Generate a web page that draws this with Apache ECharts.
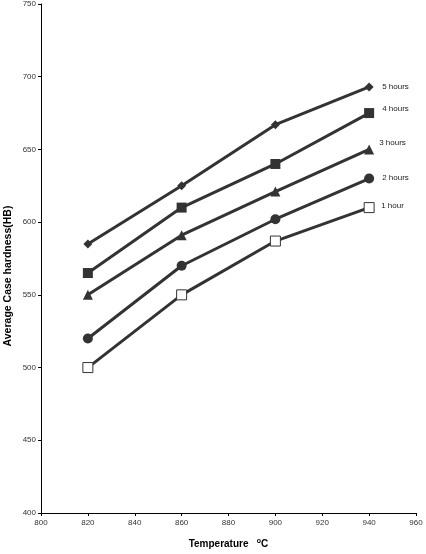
<!DOCTYPE html>
<html>
<head>
<meta charset="utf-8">
<script src="https://cdn.jsdelivr.net/npm/echarts@6/dist/echarts.min.js"></script>
<style>
html, body { margin: 0; padding: 0; background: #fff; }
#chart { width: 426px; height: 554px; }
</style>
</head>
<body>
<div id="chart"></div>
<script>
var temps = [820, 860, 900, 940];
var names = ['5 hours', '4 hours', '3 hours', '2 hours', '1 hour'];
var hours5 = [585, 625, 667, 693];
var hours4 = [565, 610, 640, 675];
var hours3 = [550, 591, 621, 650];
var hours2 = [520, 570, 602, 630];
var hours1 = [500, 550, 587, 610];
var allValues = [hours5, hours4, hours3, hours2, hours1];

var symbols = ['diamond', 'rect', 'triangle', 'circle', 'rect'];
var sizes = [9, 10, 10, 10, 10];
var labelOffsets = [[5, 0], [5, -4], [2, -7], [5, -1], [4, -2]];

var chart = echarts.init(document.getElementById('chart'));

var series = [];
for (var i = 0; i < names.length; i++) {
    var pts = [];
    for (var j = 0; j < temps.length; j++) {
        pts.push([temps[j], allValues[i][j]]);
    }
    var empty = (i === 4);
    series.push({
        name: names[i],
        type: 'line',
        data: pts,
        symbol: symbols[i],
        symbolSize: sizes[i],
        showAllSymbol: true,
        lineStyle: { color: '#333', width: 3 },
        itemStyle: {
            color: empty ? '#fff' : '#333',
            borderColor: '#333',
            borderWidth: empty ? 1 : 0
        },
        endLabel: {
            show: true,
            formatter: names[i],
            color: '#222',
            fontSize: 8,
            fontFamily: 'Liberation Sans',
            offset: labelOffsets[i]
        },
        emphasis: { disabled: true },
        z: empty ? 3 : 2
    });
}

chart.setOption({
    animation: false,
    grid: { left: 41, right: 10, top: 4, bottom: 41, outerBoundsMode: 'none', containLabel: false },
    // y axis title drawn as graphic so it can sit a bit below the middle like the original
    graphic: [{
        type: 'text',
        x: 8,
        y: 276,
        rotation: Math.PI / 2,
        style: {
            text: 'Average Case hardness(HB)',
            fontSize: 10.5,
            fontWeight: 'bold',
            fontFamily: 'Liberation Sans',
            fill: '#000',
            align: 'center',
            verticalAlign: 'middle'
        }
    }],
    xAxis: {
        type: 'value',
        min: 800,
        max: 960,
        interval: 20,
        name: '{t|Temperature   }{s|o}{t|C}',
        nameLocation: 'middle',
        nameGap: 20,
        nameTextStyle: {
            rich: {
                t: { fontSize: 10, fontWeight: 'bold', color: '#000', fontFamily: 'Liberation Sans', padding: [6, 0, 0, 0] },
                s: { fontSize: 7, fontWeight: 'bold', color: '#000', fontFamily: 'Liberation Sans' }
            }
        },
        axisLine: { lineStyle: { color: '#000', width: 1 } },
        axisTick: { show: true, length: 3, lineStyle: { color: '#000' } },
        axisLabel: { color: '#333', fontSize: 8, fontFamily: 'Liberation Sans', margin: 6 },
        splitLine: { show: false }
    },
    yAxis: {
        type: 'value',
        min: 400,
        max: 750,
        interval: 50,
        axisLine: { show: true, lineStyle: { color: '#000', width: 1 } },
        axisTick: { show: true, length: 3, lineStyle: { color: '#000' } },
        axisLabel: { color: '#333', fontSize: 8, fontFamily: 'Liberation Sans', margin: 5 },
        splitLine: { show: false }
    },
    series: series
});
window.onresize = chart.resize;
</script>
</body>
</html>
